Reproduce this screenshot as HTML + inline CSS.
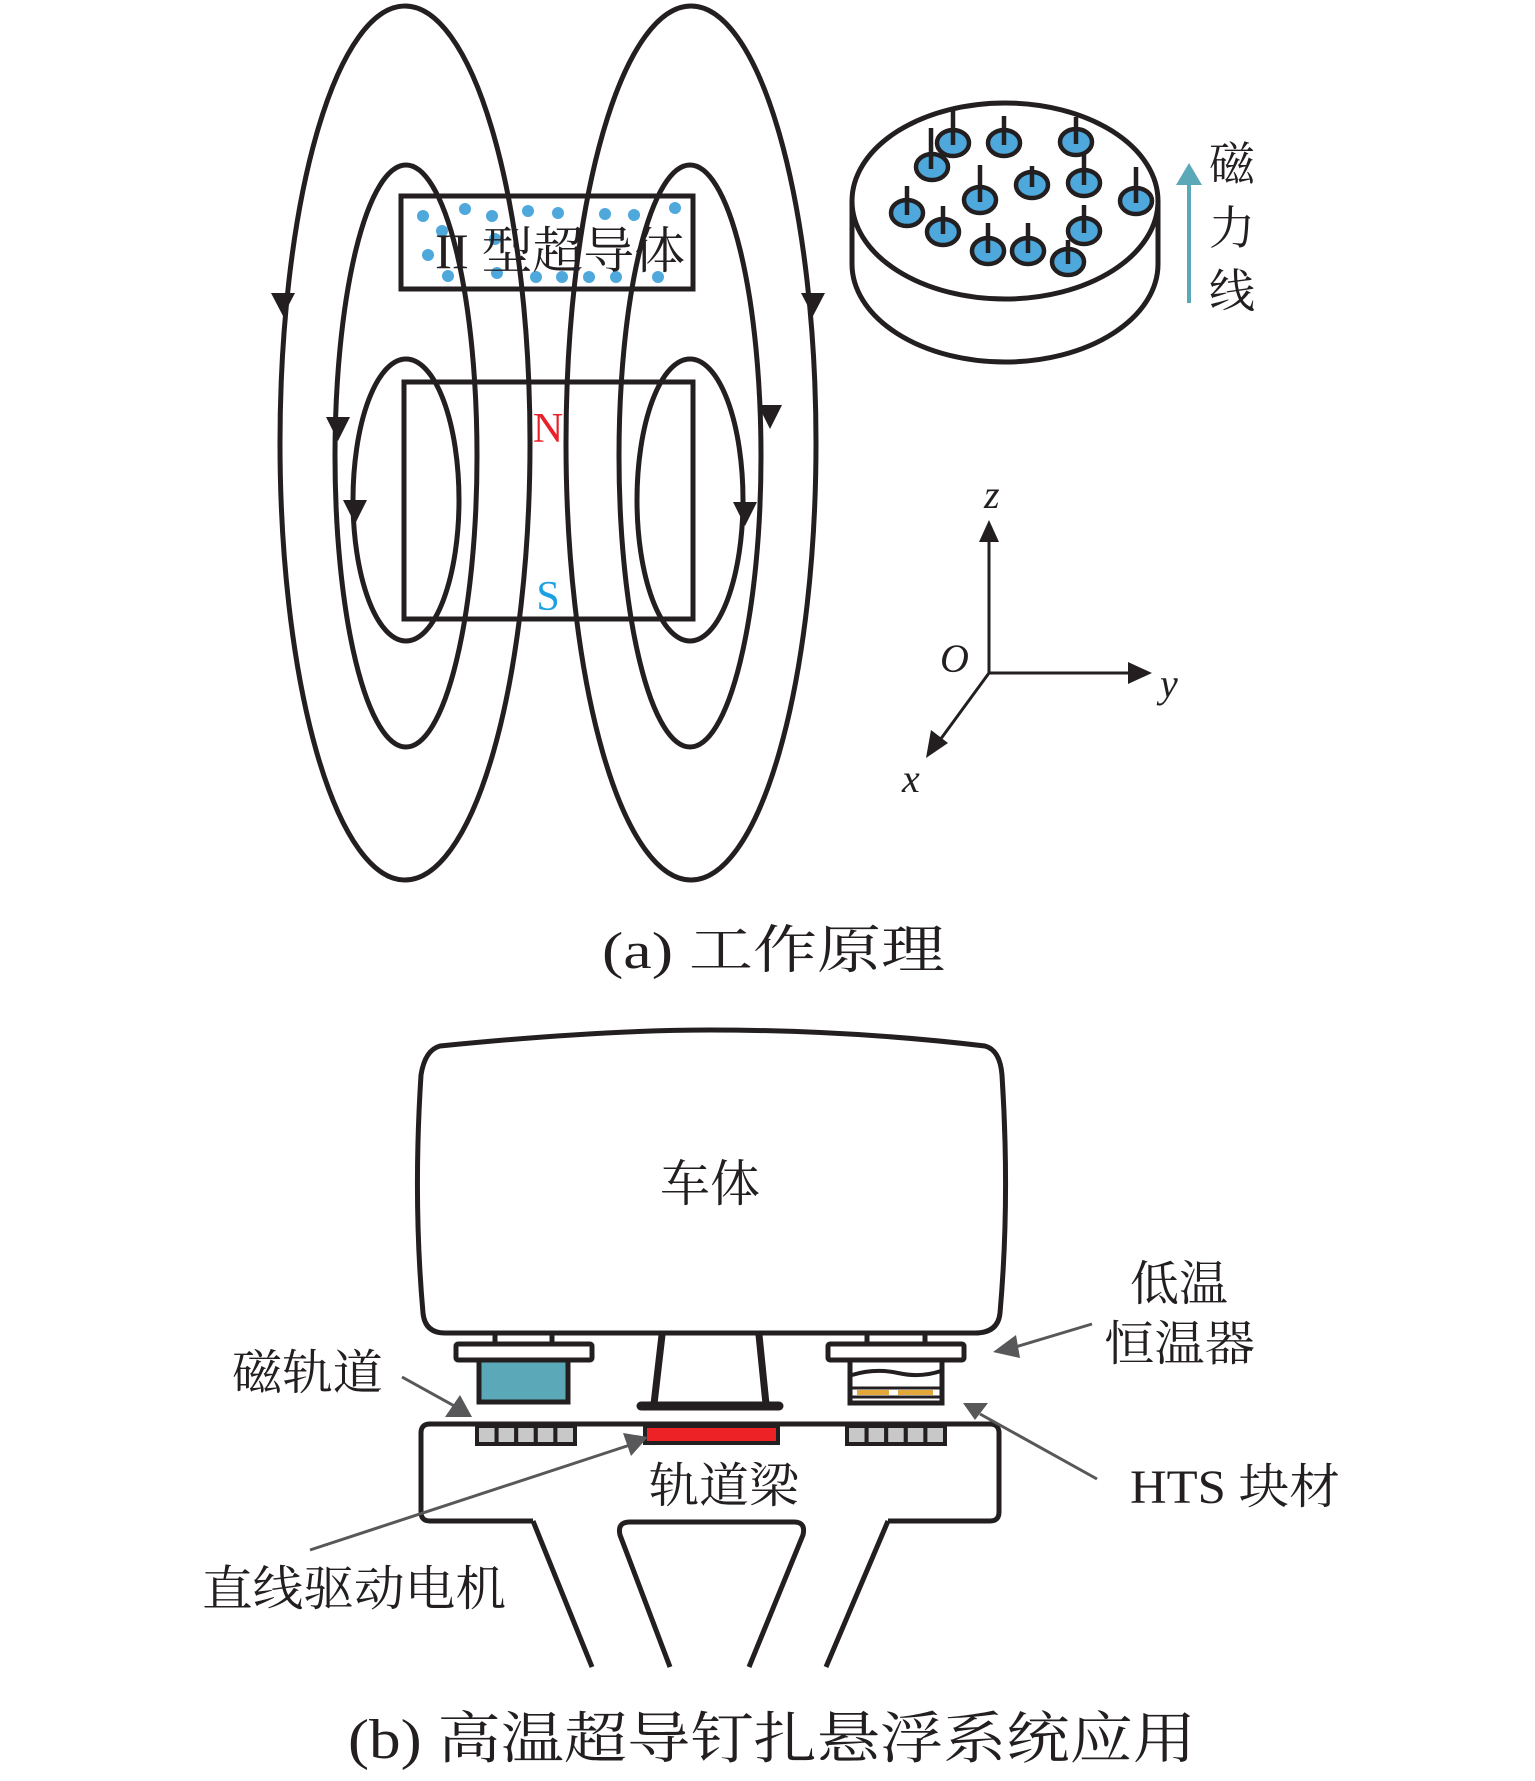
<!DOCTYPE html>
<html><head><meta charset="utf-8"><style>
html,body{margin:0;padding:0;background:#fff}
svg{display:block}
text{font-family:"Liberation Serif","Noto Serif CJK SC",serif;fill:#231f20}
</style></head><body>
<svg width="1535" height="1781" viewBox="0 0 1535 1781" xmlns="http://www.w3.org/2000/svg">
<g fill="none" stroke="#231f20" stroke-width="5">
<ellipse cx="405" cy="443" rx="125" ry="437"/>
<ellipse cx="691" cy="443" rx="125" ry="437"/>
<ellipse cx="406" cy="456" rx="71" ry="291"/>
<ellipse cx="690" cy="456" rx="71" ry="291"/>
<ellipse cx="406" cy="500" rx="53" ry="141"/>
<ellipse cx="690" cy="500" rx="53" ry="141"/>
<rect x="401" y="196" width="292" height="93" fill="none"/>
<rect x="404" y="382" width="289" height="237"/>
</g>
<g fill="#231f20">
<polygon points="271,293 295,293 283,316"/>
<polygon points="326,417 350,417 338,441"/>
<polygon points="343,500 367,500 355,524"/>
<polygon points="801,293 825,293 813,316"/>
<polygon points="758,405 782,405 770,429"/>
<polygon points="733,502 757,502 745,526"/>
</g>
<g fill="#4ea8dc">
<circle cx="423" cy="216" r="6"/><circle cx="465" cy="209" r="6"/><circle cx="492" cy="216" r="6"/><circle cx="528" cy="211" r="6"/><circle cx="558" cy="213" r="6"/><circle cx="605" cy="214" r="6"/><circle cx="634" cy="215" r="6"/><circle cx="675" cy="208" r="6"/>
<circle cx="442" cy="231" r="6"/><circle cx="495" cy="239" r="6"/><circle cx="428" cy="255" r="6"/>
<circle cx="448" cy="276" r="6"/><circle cx="497" cy="273" r="6"/><circle cx="536" cy="277" r="6"/><circle cx="562" cy="277" r="6"/><circle cx="589" cy="277" r="6"/><circle cx="616" cy="277" r="6"/><circle cx="658" cy="277" r="6"/>
</g>
<text x="560" y="268" font-size="50" text-anchor="middle" textLength="250" lengthAdjust="spacingAndGlyphs">II 型超导体</text>
<text x="548" y="442" font-size="42" text-anchor="middle" style="fill:#e8212a">N</text>
<text x="548" y="610" font-size="42" text-anchor="middle" style="fill:#1ba1e2">S</text>

<g fill="none" stroke="#231f20" stroke-width="5">
<path d="M852,201 L852,264 A153,98 0 0 0 1158,264 L1158,201"/>
<ellipse cx="1005" cy="201" rx="153" ry="98" fill="#fff"/>
</g>
<g stroke="#231f20" stroke-width="4.5" fill="#4ea8dc">
<ellipse cx="953" cy="143" rx="16" ry="13"/>
<ellipse cx="1004" cy="143" rx="16" ry="13"/>
<ellipse cx="1076" cy="142" rx="16" ry="13"/>
<ellipse cx="932" cy="167" rx="16" ry="13"/>
<ellipse cx="980" cy="200" rx="16" ry="13"/>
<ellipse cx="1032" cy="185" rx="16" ry="13"/>
<ellipse cx="1084" cy="183" rx="16" ry="13"/>
<ellipse cx="1136" cy="201" rx="16" ry="13"/>
<ellipse cx="907" cy="213" rx="16" ry="13"/>
<ellipse cx="943" cy="232" rx="16" ry="13"/>
<ellipse cx="988" cy="251" rx="16" ry="13"/>
<ellipse cx="1028" cy="251" rx="16" ry="13"/>
<ellipse cx="1084" cy="231" rx="16" ry="13"/>
<ellipse cx="1068" cy="262" rx="16" ry="13"/>
</g>
<g stroke="#231f20" stroke-width="4.5">
<line x1="953" y1="110" x2="953" y2="145"/><line x1="931" y1="128" x2="931" y2="169"/>
<line x1="1004" y1="116" x2="1004" y2="145"/>
<line x1="1076" y1="117" x2="1076" y2="144"/>
<line x1="1084" y1="155" x2="1084" y2="185"/>
<line x1="980" y1="165" x2="980" y2="202"/>
<line x1="1032" y1="166" x2="1032" y2="187"/>
<line x1="1136" y1="167" x2="1136" y2="203"/>
<line x1="907" y1="186" x2="907" y2="215"/>
<line x1="943" y1="206" x2="943" y2="234"/>
<line x1="988" y1="223" x2="988" y2="253"/>
<line x1="1028" y1="223" x2="1028" y2="253"/>
<line x1="1084" y1="205" x2="1084" y2="233"/>
<line x1="1068" y1="240" x2="1068" y2="264"/>
</g>
<line x1="1189" y1="303" x2="1189" y2="175" stroke="#5ba8b9" stroke-width="4"/>
<polygon points="1176,185 1202,185 1189,163" fill="#5ba8b9"/>
<text x="1232" y="180" font-size="46" text-anchor="middle">磁</text>
<text x="1232" y="244" font-size="46" text-anchor="middle">力</text>
<text x="1232" y="307" font-size="46" text-anchor="middle">线</text>

<g stroke="#231f20" stroke-width="3" fill="none">
<line x1="989" y1="673" x2="989" y2="540"/>
<line x1="989" y1="673" x2="1130" y2="673"/>
<line x1="989" y1="673" x2="940" y2="740"/>
</g>
<g fill="#231f20">
<polygon points="979,542 999,542 989,520"/>
<polygon points="1128,662 1128,684 1152,673"/>
<polygon points="931,730 948,743 926,758"/>
</g>
<g font-style="italic" font-size="40">
<text x="984" y="508">z</text>
<text x="940" y="672">O</text>
<text x="1160" y="697">y</text>
<text x="902" y="792">x</text>
</g>
<text x="602" y="968" font-size="52" textLength="343" lengthAdjust="spacingAndGlyphs">(a) 工作原理</text>

<g fill="none" stroke="#231f20" stroke-width="5">
<path d="M440,1046 Q600,1030 710,1030 Q850,1030 985,1046 Q1000,1050 1002,1075 Q1010,1200 1000,1313 Q998,1333 975,1333 L445,1333 Q425,1333 423,1313 Q413,1200 421,1075 Q425,1050 440,1046 Z"/>
<line x1="495" y1="1333" x2="495" y2="1344"/><line x1="552" y1="1333" x2="552" y2="1344"/>
<line x1="867" y1="1333" x2="867" y2="1344"/><line x1="925" y1="1333" x2="925" y2="1344"/>
<rect x="456" y="1344" width="136" height="16" rx="2"/>
<rect x="828" y="1344" width="136" height="16" rx="2"/>
<rect x="479" y="1360" width="89" height="42" fill="#5ba8b9"/>
<rect x="850" y="1360" width="92" height="43"/>
<line x1="662" y1="1335" x2="654" y2="1404" stroke-width="7"/>
<line x1="759" y1="1335" x2="766" y2="1404" stroke-width="7"/>
<line x1="641" y1="1406" x2="779" y2="1406" stroke-width="9" stroke-linecap="round"/>
<path d="M533,1521 L592,1667 M888,1521 L826,1667 M670,1667 L620,1535 Q617,1522 630,1522 L794,1522 Q806,1522 803,1535 L749,1667"/>
<path d="M533,1521 L430,1521 Q421,1521 421,1512 L421,1433 Q421,1424 430,1424 L990,1424 Q999,1424 999,1433 L999,1512 Q999,1521 990,1521 L888,1521"/>
</g>
<path d="M852,1375 Q875,1368 898,1373 Q920,1378 941,1371" fill="none" stroke="#231f20" stroke-width="4"/>
<rect x="857" y="1390" width="32" height="5" fill="#e3a83a"/>
<rect x="898" y="1390" width="35" height="5" fill="#e3a83a"/>
<line x1="852" y1="1388" x2="940" y2="1388" stroke="#231f20" stroke-width="3"/>
<line x1="852" y1="1397" x2="940" y2="1397" stroke="#231f20" stroke-width="3"/>
<g stroke="#231f20" stroke-width="4" fill="#c8c8c8">
<rect x="477" y="1426" width="19.6" height="18"/><rect x="496.6" y="1426" width="19.6" height="18"/><rect x="516.2" y="1426" width="19.6" height="18"/><rect x="535.8" y="1426" width="19.6" height="18"/><rect x="555.4" y="1426" width="19.6" height="18"/>
<rect x="847" y="1426" width="19.6" height="18"/><rect x="866.6" y="1426" width="19.6" height="18"/><rect x="886.2" y="1426" width="19.6" height="18"/><rect x="905.8" y="1426" width="19.6" height="18"/><rect x="925.4" y="1426" width="19.6" height="18"/>
</g>
<rect x="645" y="1426" width="133" height="17" fill="#ec2227" stroke="#231f20" stroke-width="4"/>

<g stroke="#58585a" stroke-width="3">
<line x1="402" y1="1377" x2="458" y2="1408"/>
<line x1="1092" y1="1324" x2="1012" y2="1348"/>
<line x1="1097" y1="1479" x2="980" y2="1414"/>
<line x1="310" y1="1550" x2="630" y2="1445"/>
</g>
<g fill="#58585a">
<polygon points="445,1417 472,1417 460,1395"/>
<polygon points="993,1352 1016,1335 1020,1358"/>
<polygon points="963,1403 988,1403 975,1420"/>
<polygon points="648,1437 623,1433 631,1456"/>
</g>
<g font-size="48">
<text x="710" y="1201" text-anchor="middle" font-size="50">车体</text>
<text x="232" y="1389" textLength="151" lengthAdjust="spacingAndGlyphs">磁轨道</text>
<text x="1130" y="1300" textLength="98" lengthAdjust="spacingAndGlyphs">低温</text>
<text x="1104" y="1360" textLength="151" lengthAdjust="spacingAndGlyphs">恒温器</text>
<text x="1130" y="1503" textLength="210" lengthAdjust="spacingAndGlyphs">HTS 块材</text>
<text x="649" y="1502" textLength="150" lengthAdjust="spacingAndGlyphs">轨道梁</text>
<text x="202" y="1605" textLength="304" lengthAdjust="spacingAndGlyphs">直线驱动电机</text>
</g>
<text x="348" y="1758" font-size="56" textLength="848" lengthAdjust="spacingAndGlyphs">(b) 高温超导钉扎悬浮系统应用</text>
</svg>
</body></html>
